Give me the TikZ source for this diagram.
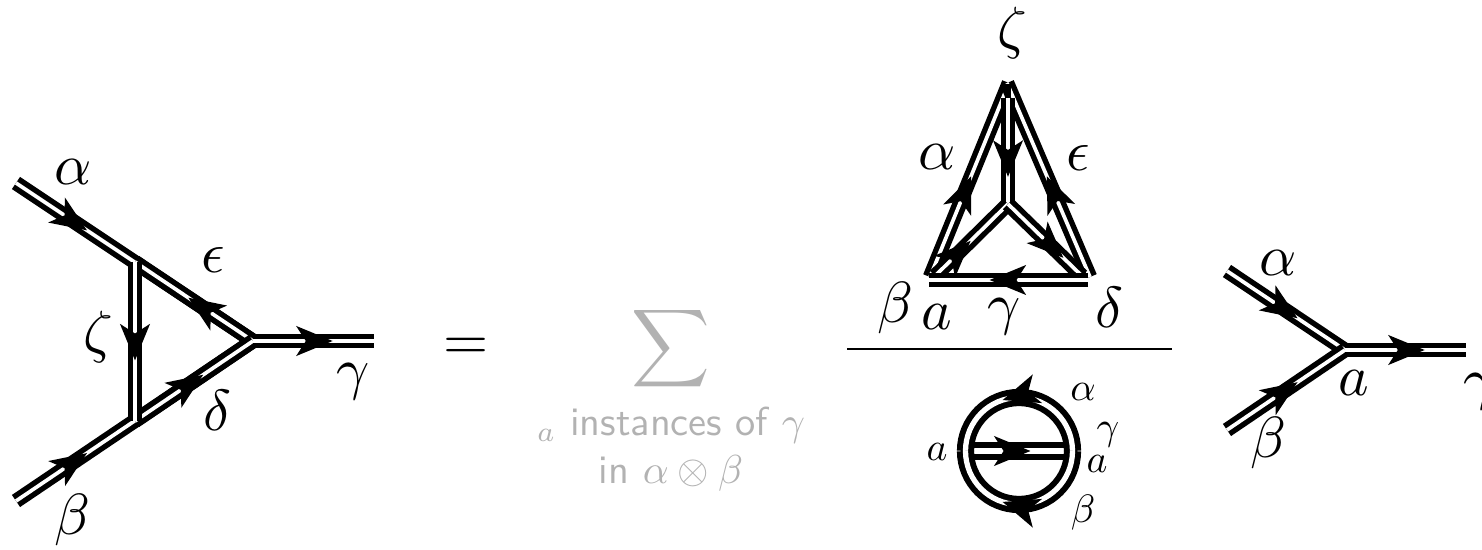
\documentclass[tikz,border=0pt]{standalone}
\usetikzlibrary{arrows.meta,decorations.markings}

\begin{document}
\begin{tikzpicture}[x=0.02cm, y=-0.02cm,
    dline/.style = {draw, line width=3.1pt, double, double distance=2.1pt},
    ringline/.style = {draw, line width=3.4pt, double, double distance=3pt},
    arrowat/.style = {postaction={decorate, decoration={markings,
        mark=at position #1 with {\arrow{Stealth[length=7.2mm, width=5.8mm, inset=1.8mm]}}}}},
    biglabel/.style = {scale=3.3, inner sep=0pt},
    smalllabel/.style = {scale=2.25, inner sep=0pt},
    greytext/.style = {text=black!30, inner sep=0pt}]
  \def\ringRad{53.5}
  \useasboundingbox (0,0) rectangle (1482,550);

  % Drawing the first vertex
  \coordinate (lA) at (16,183);
  \coordinate (lB) at (16,501);
  \coordinate (lTop) at (135,262);
  \coordinate (lBot) at (135,421);
  \coordinate (lV) at (253,341);
  \coordinate (lG) at (374,341);
  \draw[dline, arrowat=.30] (lA) -- (lV);
  \draw[dline, arrowat=.30] (lB) -- (lV);
  \draw[dline, arrowat=.55] (lV) -- (lTop);
  \draw[dline, arrowat=.58] (lBot) -- (lV);
  \draw[dline, arrowat=.66] (lV) -- (lG);
  \draw[dline, arrowat=.62] (lTop) -- (lBot);

  % Drawing the tetrahedron
  \coordinate (tL) at (930,277);
  \coordinate (tLa) at (1009,83);
  \coordinate (tR) at (1090,277);
  \coordinate (tRa) at (1007,83);
  \coordinate (tApex) at (1008,84);
  \coordinate (tZ) at (1008,98);
  \coordinate (tJ) at (1008,204);
  \coordinate (tC) at (935,276);
  \coordinate (tD) at (1082,276);
  \coordinate (tE) at (929,280);
  \coordinate (tF) at (1088,280);
  \draw[dline, arrowat=.52] (tL) -- (tLa);
  \draw[dline, arrowat=.52] (tR) -- (tRa);
  \draw[line width=3.5pt] (tApex) -- (tZ);
  \draw[dline, arrowat=.745] (tZ) -- (tJ);
  \draw[dline, arrowat=.49] (tC) -- (tJ);
  \draw[dline, arrowat=.75] (tJ) -- (tD);
  \draw[dline, arrowat=.62] (tF) -- (tE);

  % Fraction bar
  \coordinate (barL) at (847,349);
  \coordinate (barR) at (1172,349);
  \draw[line width=1.6pt] (barL) -- (barR);

  % Drawing the ring
  \coordinate (rR) at (1019+\ringRad,451);
  \coordinate (mL) at (966,451);
  \coordinate (mR) at (1072,451);
  \draw[ringline, arrowat=.61] (mL) -- (mR);
  \draw[ringline, arrowat=.60] (rR) arc[start angle=0, end angle=-180, radius=\ringRad];
  \draw[ringline, arrowat=.60] (rR) arc[start angle=0, end angle=180, radius=\ringRad];

  % Drawing the last vertex
  \coordinate (vA) at (1227,271);
  \coordinate (vB) at (1227,430);
  \coordinate (vJ) at (1345,350);
  \coordinate (vG) at (1466,350);
  \draw[dline, arrowat=.60] (vA) -- (vJ);
  \draw[dline, arrowat=.60] (vB) -- (vJ);
  \draw[dline, arrowat=.66] (vJ) -- (vG);

  % Labels
  \foreach \lab/\xPos/\yPos/\sym in {la/73/172/\alpha, le/213/260/\epsilon, lz/98/337/\zeta,
      lg/353/382/\gamma, ld/217/410/\delta, lb/72/520/\beta,
      tz/1012/33/\zeta, ta/937/157/\alpha, te/1078/158/\epsilon, tb/895/308/\beta,
      tx/937/317/a, tg/1004/317/\gamma, td/1109/307/\delta,
      va/1278/263/\alpha, vb/1268/443/\beta, vx/1354/383/a, vg/1480/392/\gamma}{
      \node[biglabel] (\lab) at (\xPos,\yPos) {$\sym$};
    }
  \foreach \lab/\xPos/\yPos/\sym in {ra/1083/392/\alpha, rg/1108/435/\gamma,
      rx/1097/464/a, rb/1083/513/\beta, ry/937/452/a}{
      \node[smalllabel] (\lab) at (\xPos,\yPos) {$\sym$};
    }

  % The sum in the middle
  \node[biglabel] (eq) at (466,349) {$=$};
  \node[biglabel, greytext, scale=.94] (sum) at (671,349) {$\displaystyle\sum$};
  \node[greytext, align=center, font=\sffamily, scale=2.3, anchor=north] (sumtext)
    at (671,406) {$_a$ instances of $\gamma$\\in $\alpha\otimes\beta$};
\end{tikzpicture}
\end{document}
